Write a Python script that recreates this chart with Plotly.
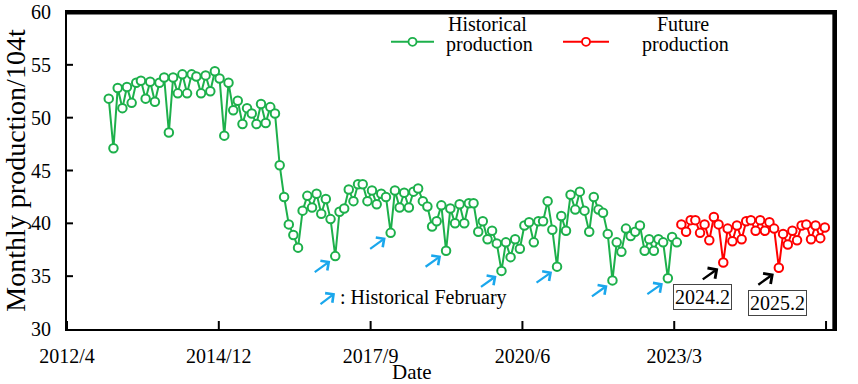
import pandas as pd
import plotly.graph_objects as go

# ---------------- data ----------------
HIST_START = "2013-01-01"
HIST_VALUES = [
    # 2013
    51.8, 47.1, 52.8, 50.9, 52.9, 51.4, 53.3, 53.5, 51.8, 53.4, 51.5, 53.3,
    # 2014
    53.8, 48.6, 53.8, 52.3, 54.1, 52.3, 54.1, 53.9, 52.3, 54.0, 52.5, 54.4,
    # 2015
    53.7, 48.3, 53.3, 50.7, 51.6, 49.4, 50.9, 50.4, 49.4, 51.3, 49.5, 51.0,
    # 2016
    50.4, 45.5, 42.5, 39.9, 38.9, 37.7, 41.2, 42.6, 41.5, 42.8, 40.9, 42.3,
    # 2017
    40.4, 36.9, 41.1, 41.4, 43.2, 42.1, 43.7, 43.7, 42.1, 43.1, 41.8, 42.8,
    # 2018
    42.5, 39.1, 43.1, 41.5, 42.9, 41.5, 43.0, 43.3, 42.1, 41.6, 39.7, 40.2,
    # 2019
    41.7, 37.4, 41.4, 40.0, 41.8, 40.0, 41.9, 41.9, 39.2, 40.2, 38.5, 39.3,
    # 2020
    38.1, 35.5, 38.2, 36.8, 38.5, 37.6, 39.8, 40.1, 38.2, 40.2, 40.2, 42.1,
    # 2021
    39.4, 35.9, 40.7, 39.3, 42.7, 41.3, 43.0, 41.2, 39.2, 42.5, 41.3, 41.0,
    # 2022
    39.0, 34.6, 38.2, 37.3, 39.5, 38.8, 39.2, 39.8, 37.4, 38.5, 37.4, 38.5,
    # 2023
    38.2, 34.8, 38.7, 38.2,
]

FUT_START = "2023-05-01"
FUT_VALUES = [
    # 2023
    39.9, 39.2, 40.3, 40.3, 39.1, 39.9, 38.4, 40.6,
    # 2024
    39.9, 36.3, 39.5, 38.3, 39.8, 38.5, 40.2, 40.3, 39.3, 40.3, 39.3, 40.1,
    # 2025
    39.5, 35.8, 39.0, 38.0, 39.3, 38.4, 39.8, 39.9, 38.5, 39.8, 38.6, 39.6,
]

TICK_START = "2012-04-01"
TICK_STEP_DAYS = 1000
TICK_LABELS = ["2012/4", "2014/12", "2017/9", "2020/6", "2023/3", "2025/12"]
Y_TICKS = [30, 35, 40, 45, 50, 55, 60]

HIST_NAME = "Historical production"
FUT_NAME = "Future production"
Y_TITLE = "Monthly production/104t"
X_TITLE = "Date"
FEB_LEGEND_TEXT = ": Historical February"

# ---------------- derived ----------------
hist_dates = pd.date_range(HIST_START, periods=len(HIST_VALUES), freq="MS")
fut_dates = pd.date_range(FUT_START, periods=len(FUT_VALUES), freq="MS")
tick_dates = [pd.Timestamp(TICK_START) + pd.Timedelta(days=TICK_STEP_DAYS * i)
              for i in range(len(TICK_LABELS))]

GREEN = "#1DB04B"
RED = "#FF0000"
BLUE = "#1AA7EC"
FONT = "Liberation Serif"

W, H = 858, 384
PL, PT, PW, PH = 67, 10, 768, 319


def pxx(x):
    return (x - PL) / PW


def pxy(y):
    return (PT + PH - y) / PH


def text_ann(fig, x, y, text, size=20, xanchor="center", **kw):
    fig.add_annotation(x=pxx(x), y=pxy(y), xref="paper", yref="paper", text=text,
                       showarrow=False, xanchor=xanchor, yanchor="middle",
                       font=dict(family=FONT, size=size, color="black"), **kw)


fig = go.Figure()
fig.add_trace(go.Scatter(
    x=hist_dates, y=HIST_VALUES, mode="lines+markers", name=HIST_NAME,
    line=dict(color=GREEN, width=2),
    marker=dict(size=8.5, color="white", line=dict(color=GREEN, width=2)),
    showlegend=False,
))
fig.add_trace(go.Scatter(
    x=fut_dates, y=FUT_VALUES, mode="lines+markers", name=FUT_NAME,
    line=dict(color=RED, width=2),
    marker=dict(size=8.5, color="white", line=dict(color=RED, width=2)),
    showlegend=False,
))

# arrows pointing at the February dips
for d, v in zip(hist_dates, HIST_VALUES):
    if d.month == 2 and d.year >= 2017:
        fig.add_annotation(x=d, y=v, xref="x", yref="y", text="", showarrow=True,
                           ax=-17, ay=12, arrowhead=4, arrowsize=1.05, arrowwidth=2.2,
                           arrowcolor=BLUE, standoff=0, xshift=-5, yshift=-5)
LABEL_SHIFTS = {2024: (-21, -35), 2025: (-1, -35)}
for d, v in zip(fut_dates, FUT_VALUES):
    if d.month == 2:
        fig.add_annotation(x=d, y=v, xref="x", yref="y", text="", showarrow=True,
                           ax=-17, ay=12, arrowhead=4, arrowsize=1.05, arrowwidth=2.4,
                           arrowcolor="black", standoff=0, xshift=-5, yshift=-6)
        sx, sy = LABEL_SHIFTS.get(d.year, (-10, -35))
        fig.add_annotation(x=d, y=v, xref="x", yref="y",
                           text=f"{d.year}.{d.month}", showarrow=False,
                           xanchor="center", yanchor="middle",
                           font=dict(family=FONT, size=20, color="black"),
                           bordercolor="#444", borderwidth=1, borderpad=1,
                           bgcolor="white", xshift=sx, yshift=sy)

# "Historical February" key
fig.add_annotation(x=pxx(335), y=pxy(293), xref="paper", yref="paper", text="",
                   showarrow=True, ax=-16, ay=12, arrowhead=4, arrowsize=1.05,
                   arrowwidth=2.2, arrowcolor=BLUE, standoff=0)
text_ann(fig, 338, 297, FEB_LEGEND_TEXT, xanchor="left")

# custom legend
for (x0, x1, col, l1, l2, cx) in [
    (391, 434, GREEN, "Historical", "production", 487),
    (563, 609, RED, "Future", "production", 683),
]:
    fig.add_shape(type="line", xref="paper", yref="paper",
                  x0=pxx(x0), x1=pxx(x1), y0=pxy(40), y1=pxy(40),
                  line=dict(color=col, width=2))
    fig.add_shape(type="circle", xref="paper", yref="paper",
                  xsizemode="pixel", ysizemode="pixel",
                  xanchor=pxx((x0 + x1) / 2), yanchor=pxy(40),
                  x0=-4, x1=4, y0=-4, y1=4,
                  line=dict(color=col, width=1.8), fillcolor="white")
    text_ann(fig, cx, 22, l1)
    text_ann(fig, cx + 2, 43, l2)

# x title
text_ann(fig, 412, 372, X_TITLE, size=21)

# frame (top and right edges) and inside tick marks
fig.add_shape(type="line", xref="paper", yref="paper", x0=0, x1=1, y0=0.997, y1=0.997,
              line=dict(color="black", width=3), layer="above")
fig.add_shape(type="line", xref="paper", yref="paper", x0=0.9985, x1=0.9985, y0=0, y1=1,
              line=dict(color="black", width=3), layer="above")
for td in tick_dates:
    fig.add_shape(type="line", xref="x", yref="paper", x0=td, x1=td,
                  ysizemode="pixel", yanchor=0, y0=0, y1=8,
                  line=dict(color="black", width=2))
for yv in Y_TICKS[1:-1]:
    fig.add_shape(type="line", xref="paper", yref="y", y0=yv, y1=yv,
                  xsizemode="pixel", xanchor=0, x0=0, x1=6,
                  line=dict(color="black", width=2))

fig.update_layout(
    width=W, height=H,
    margin=dict(l=PL, r=W - PL - PW, t=PT, b=H - PT - PH),
    paper_bgcolor="white", plot_bgcolor="white",
    font=dict(family=FONT, size=20, color="black"),
    showlegend=False,
)
fig.update_xaxes(
    type="date",
    range=[pd.Timestamp(TICK_START), pd.Timestamp("2026-02-06")],
    tickvals=tick_dates, ticktext=TICK_LABELS,
    ticks="outside", ticklen=8, tickwidth=2, tickcolor="rgba(0,0,0,0)",
    showline=True, linewidth=2, linecolor="black", mirror=True,
    showgrid=False, zeroline=False,
    tickfont=dict(family=FONT, size=20, color="black"),
)
fig.update_yaxes(
    range=[30, 60], tickvals=Y_TICKS,
    ticks="", showline=True, linewidth=2, linecolor="black", mirror=True,
    showgrid=False, zeroline=False, ticklabelstandoff=10,
    tickfont=dict(family=FONT, size=20, color="black"),
    title=dict(text=Y_TITLE, font=dict(family=FONT, size=28, color="black"), standoff=10),
    automargin=False,
)

fig.write_html("out.html", config={"displayModeBar": False},
               post_script="document.body.style.margin='0';")
